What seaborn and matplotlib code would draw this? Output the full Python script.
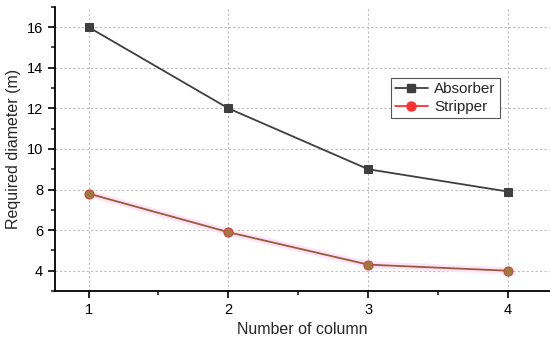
import seaborn as sns
import matplotlib.pyplot as plt
import pandas as pd
from matplotlib.ticker import MultipleLocator
from matplotlib.lines import Line2D

columns = [1, 2, 3, 4]
absorber = [16.0, 12.0, 9.0, 7.9]
stripper = [7.8, 5.9, 4.3, 4.0]

df = pd.DataFrame({'column': columns, 'Absorber': absorber, 'Stripper': stripper})

sns.set_style('ticks')
plt.rcParams['font.family'] = ['Liberation Sans', 'DejaVu Sans']

fig = plt.figure(figsize=(5.5, 3.44), dpi=100)
ax = fig.add_axes([0.1, 0.154, 0.9, 0.826])

# soft pink halo behind the stripper line
sns.lineplot(data=df, x='column', y='Stripper', ax=ax, color='#ffe3f6', lw=5, zorder=1)
sns.lineplot(data=df, x='column', y='Absorber', ax=ax, color='#3f3f3f', lw=1.3,
             marker='s', markersize=6, markeredgecolor='#3f3f3f', zorder=3)
sns.lineplot(data=df, x='column', y='Stripper', ax=ax, color='#9a5a3c', lw=1.3,
             marker='o', markersize=6.5, markerfacecolor='#a07a3c',
             markeredgecolor='#d04040', markeredgewidth=0.8, zorder=3)

ax.set_xlim(0.76, 4.3)
ax.set_ylim(3, 17)
ax.xaxis.set_major_locator(MultipleLocator(1))
ax.xaxis.set_minor_locator(MultipleLocator(0.5))
ax.yaxis.set_minor_locator(MultipleLocator(1))
ax.set_yticks([4, 6, 8, 10, 12, 14, 16])
ax.tick_params(which='major', direction='out', length=5, width=1.2, labelsize=10.5, colors='black')
ax.tick_params(which='minor', direction='out', length=3, width=1.2)
ax.grid(True, which='major', ls=(0, (2, 2)), color='#bdbdbd', lw=0.8)
sns.despine(ax=ax)
for s in ['left', 'bottom']:
    ax.spines[s].set_linewidth(1.3)
    ax.spines[s].set_color('black')

ax.set_xlabel('Number of column', fontsize=11.5)
ax.set_ylabel('Required diameter (m)', fontsize=11.5)

handles = [
    Line2D([], [], color='#3f3f3f', lw=1.3, marker='s', markersize=6),
    Line2D([], [], color='#ff3030', lw=1.3, marker='o', markersize=6.5),
]
leg = ax.legend(handles, ['Absorber', 'Stripper'], loc='upper left',
                bbox_to_anchor=(0.663, 0.775), fontsize=11, frameon=True,
                fancybox=False, edgecolor='#555555', framealpha=1,
                handlelength=2.2, borderpad=0.25, labelspacing=0.25, handletextpad=0.4)
leg.get_frame().set_linewidth(0.8)

fig.savefig('out.png', dpi=100)
